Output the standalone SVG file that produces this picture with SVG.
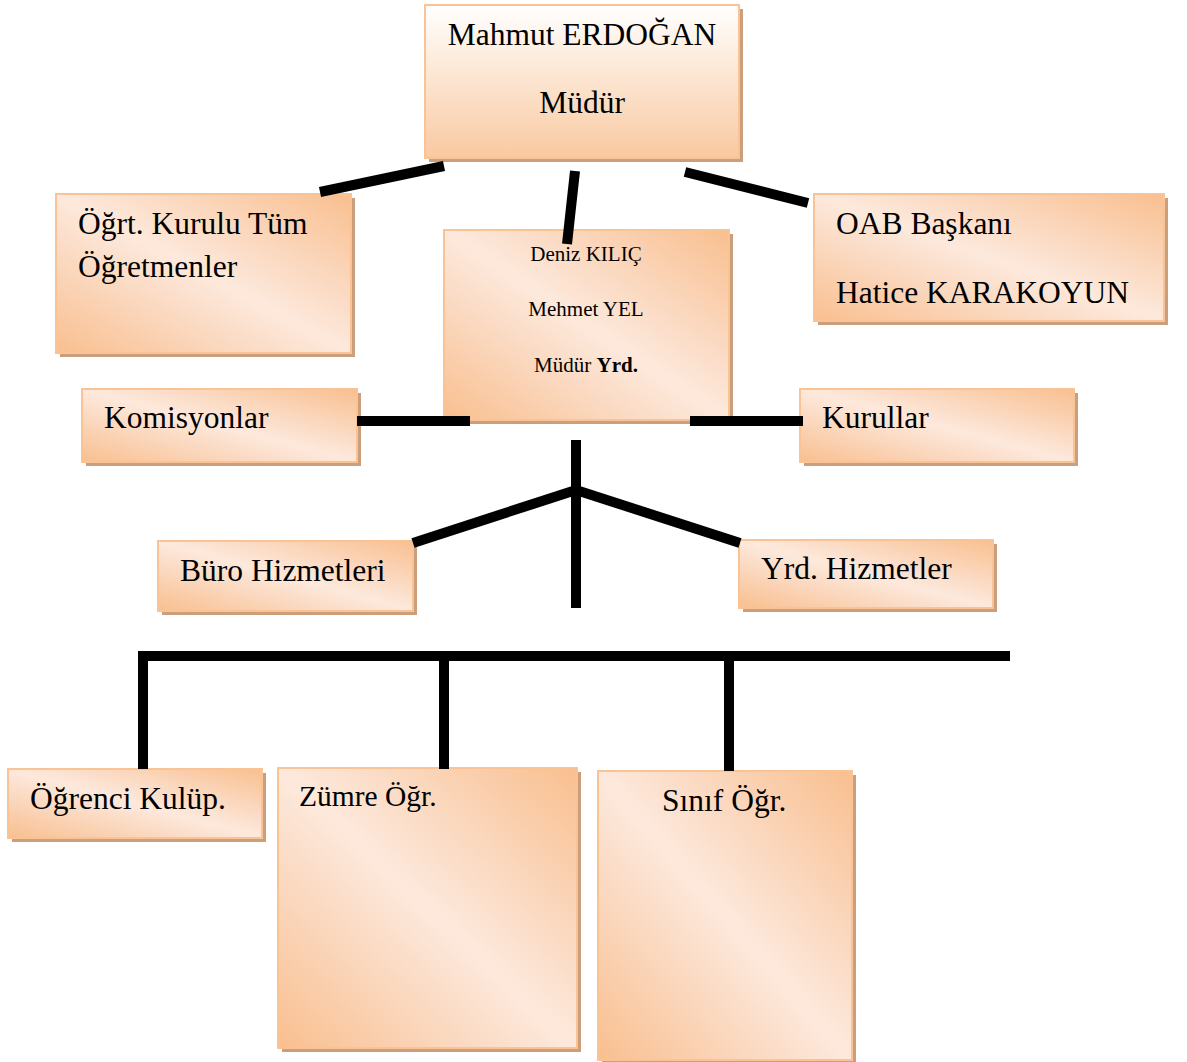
<svg xmlns="http://www.w3.org/2000/svg" width="1187" height="1062" viewBox="0 0 1187 1062">
<defs>
<linearGradient id="gv" x1="0" y1="0" x2="0" y2="1">
<stop offset="0" stop-color="#ffffff"/>
<stop offset="1" stop-color="#f9c9a0"/>
</linearGradient>
<linearGradient id="gd" x1="0" y1="1" x2="1" y2="0">
<stop offset="0" stop-color="#f9bf8f"/>
<stop offset="0.35" stop-color="#fbdcc6"/>
<stop offset="0.5" stop-color="#fde9dc"/>
<stop offset="0.65" stop-color="#fbdcc6"/>
<stop offset="1" stop-color="#f9bf8f"/>
</linearGradient>
</defs>
<style>
.sh{fill:#cc9f7c}
.bx{fill:url(#gd);stroke:#fac395;stroke-width:2}
.bt{fill:url(#gv);stroke:#fac395;stroke-width:2}
text{font-family:"Liberation Serif","Times New Roman",serif;fill:#000;font-size:31.5px}
.sm{font-size:21px}
.md{font-size:29.5px}
.cn line{stroke:#000;stroke-width:10;stroke-linecap:butt}
</style>
<rect width="1187" height="1062" fill="#fff"/>
<g id="mudur">
<rect class="sh" x="429" y="9" width="314" height="153"/>
<rect class="bt" x="425" y="5" width="314" height="153"/>
<text x="582" y="45" text-anchor="middle">Mahmut ERDOĞAN</text>
<text x="582" y="113" text-anchor="middle">Müdür</text>
</g>
<g id="ogrt">
<rect class="sh" x="60" y="198" width="295" height="159"/>
<rect class="bx" x="56" y="194" width="295" height="159"/>
<text x="78" y="234">Öğrt. Kurulu Tüm</text>
<text x="78" y="277">Öğretmenler</text>
</g>
<g id="oab">
<rect class="sh" x="818" y="198" width="350" height="127"/>
<rect class="bx" x="814" y="194" width="350" height="127"/>
<text x="836" y="234">OAB Başkanı</text>
<text x="836" y="303">Hatice KARAKOYUN</text>
</g>
<g id="yrd">
<rect class="sh" x="448" y="234" width="285" height="190"/>
<rect class="bx" x="444" y="230" width="285" height="190"/>
<text class="sm" x="586" y="261" text-anchor="middle">Deniz KILIÇ</text>
<text class="sm" x="586" y="316" text-anchor="middle">Mehmet YEL</text>
<text class="sm" x="586" y="372" text-anchor="middle">Müdür <tspan font-weight="bold">Yrd.</tspan></text>
</g>
<g id="komisyonlar">
<rect class="sh" x="86" y="393" width="275" height="73"/>
<rect class="bx" x="82" y="389" width="275" height="73"/>
<text x="104" y="428">Komisyonlar</text>
</g>
<g id="kurullar">
<rect class="sh" x="804" y="393" width="274" height="73"/>
<rect class="bx" x="800" y="389" width="274" height="73"/>
<text x="822" y="428">Kurullar</text>
</g>
<g id="buro">
<rect class="sh" x="162" y="545" width="255" height="70"/>
<rect class="bx" x="158" y="541" width="255" height="70"/>
<text x="180" y="581">Büro Hizmetleri</text>
</g>
<g id="yrdhiz">
<rect class="sh" x="743" y="544" width="254" height="68"/>
<rect class="bx" x="739" y="540" width="254" height="68"/>
<text x="761" y="579">Yrd. Hizmetler</text>
</g>
<g id="ogrenci">
<rect class="sh" x="12" y="773" width="254" height="69"/>
<rect class="bx" x="8" y="769" width="254" height="69"/>
<text x="30" y="809">Öğrenci Kulüp.</text>
</g>
<g id="zumre">
<rect class="sh" x="282" y="772" width="299" height="280"/>
<rect class="bx" x="278" y="768" width="299" height="280"/>
<text class="md" x="299" y="806">Zümre Öğr.</text>
</g>
<g id="sinif">
<rect class="sh" x="602" y="775" width="254" height="289"/>
<rect class="bx" x="598" y="771" width="254" height="289"/>
<text x="662" y="811">Sınıf Öğr.</text>
</g>
<g class="cn" id="connectors">
<line x1="320" y1="192" x2="444" y2="166"/>
<line x1="575" y1="171" x2="567" y2="244"/>
<line x1="685" y1="172" x2="808" y2="203"/>
<line x1="357" y1="421" x2="470" y2="421"/>
<line x1="690" y1="421" x2="803" y2="421"/>
<line x1="576" y1="440" x2="576" y2="608"/>
<line x1="413" y1="543" x2="576" y2="490"/>
<line x1="576" y1="490" x2="740" y2="543"/>
<line x1="138" y1="656" x2="1010" y2="656"/>
<line x1="143" y1="656" x2="143" y2="769"/>
<line x1="444" y1="656" x2="444" y2="769"/>
<line x1="729" y1="656" x2="729" y2="771"/>
</g>
</svg>
